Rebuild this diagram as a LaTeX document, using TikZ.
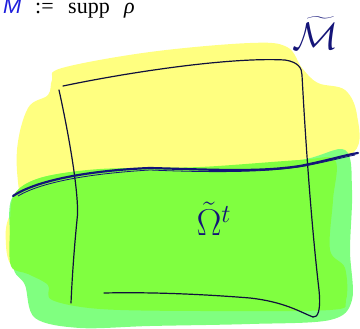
\documentclass[tikz,border=0pt]{standalone}
\usepackage{fontspec}
\setmainfont{Liberation Serif}
\newfontfamily\sansfam{Liberation Sans}
\definecolor{yel}{RGB}{255,255,128}
\definecolor{bgreen}{RGB}{128,255,64}
\definecolor{lgreen}{RGB}{128,255,128}
\definecolor{navyink}{RGB}{20,20,120}
\definecolor{frameink}{RGB}{16,16,60}
\definecolor{textblue}{RGB}{30,30,220}
\tikzset{
  frameline/.style={draw=frameink,line width=1.2pt,line cap=round,line join=round},
  inkline/.style={draw=navyink,line width=2.2pt,line cap=round,line join=round},
  toptext/.style={anchor=base west,inner sep=0pt,font=\fontsize{22}{26}\selectfont},
  handlabel/.style={text=navyink,inner sep=0pt,font=\fontsize{20}{24}\selectfont,transform shape}
}
\begin{document}
\begin{tikzpicture}[x=1pt,y=-1pt]
\useasboundingbox (0,0) rectangle (360,329);
% yellow blob
\fill[yel] plot[smooth cycle,tension=0.6] coordinates {
 (62,68) (150,52) (250,43) (287,47) (302,68) (318,83) (345,90) (357,115) (354,152)
 (300,168) (150,172) (40,180) (10,215) (6,245) (12,266) (30,268) (20,200) (17,150) (28,108) (48,95) (52,80)};
% light green blob
\fill[lgreen] plot[smooth cycle,tension=0.55] coordinates {
 (12,198) (40,178) (100,170) (200,168) (300,160) (345,150) (352,190) (350,250) (352,300)
 (330,320) (250,324) (150,326) (80,328) (35,318) (25,285) (14,270) (10,235)};
% bright green blob
\fill[bgreen] plot[smooth cycle,tension=0.55] coordinates {
 (14,195) (40,178) (100,169) (200,167) (300,160) (335,160) (333,200) (330,250) (345,268)
 (346,300) (330,310) (200,311) (100,309) (52,300) (48,285) (28,274) (11,266) (10,230)};
% frame
\coordinate (tl) at (63,86);
\coordinate (tr) at (302,75);
\coordinate (lt) at (59,90);
\coordinate (lb) at (71,303);
\coordinate (bl) at (104,293);
\coordinate (br) at (313,317);
\draw[frameline] (tl) .. controls (130,72) and (230,57) .. (285,60) .. controls (298,62) and (302,68) .. (tr)
  .. controls (306,150) and (312,230) .. (319,290) .. controls (321,310) and (318,318) .. (br);
\draw[frameline] (br) .. controls (300,312) and (285,302) .. (250,298) .. controls (200,294) and (150,292) .. (bl);
\draw[frameline] (lt) .. controls (70,140) and (80,200) .. (77,220) .. controls (74,250) and (72,280) .. (lb);
% navy curve
\coordinate (cl) at (13,196);
\coordinate (cr) at (358,153);
\draw[inkline] (cl) .. controls (40,178) and (100,170) .. (150,168) .. controls (220,170) and (260,172) .. (300,166) .. controls (330,160) and (345,155) .. (cr);
\draw[draw=navyink,line width=0.8pt] (18,196) .. controls (45,180) and (100,173) .. (150,170) .. controls (220,173) and (270,172) .. (305,166) .. controls (330,161) and (345,157) .. (355,155);
% labels
\node[toptext,text=textblue] (m) at (3,14) {\sansfam\itshape M};
\node[toptext] (def) at (35,14) {:=};
\node[toptext] (supp) at (68,14) {supp};
\node[toptext] (rho) at (124,14) {\itshape ρ};
\node[handlabel,scale=1.85] (mt) at (316,33) {$\widetilde{\mathcal M}$};
\node[handlabel,scale=1.8] (om) at (214,219) {$\tilde{\Omega}^t$};
\end{tikzpicture}
\end{document}
